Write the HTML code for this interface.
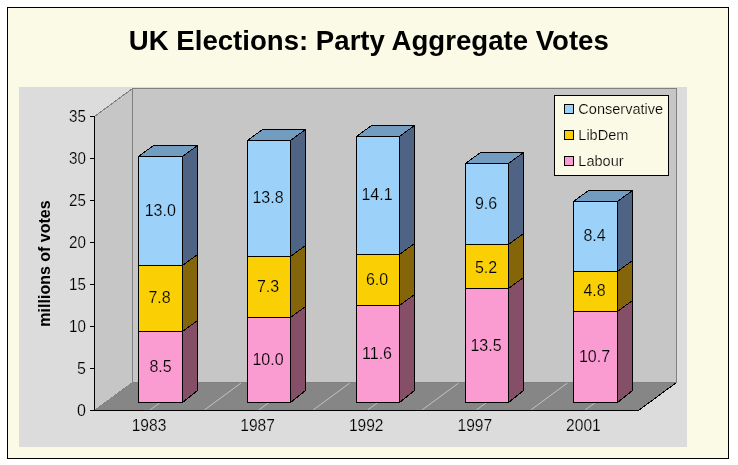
<!DOCTYPE html>
<html><head><meta charset="utf-8"><title>UK Elections: Party Aggregate Votes</title>
<style>html,body{margin:0;padding:0;background:#fff;}body{width:738px;height:465px;overflow:hidden;font-family:"Liberation Sans",sans-serif;}svg{display:block;will-change:transform}text{font-family:"Liberation Sans",sans-serif;fill:#000}.s{shape-rendering:crispEdges}</style></head><body>
<svg width="738" height="465" viewBox="0 0 738 465">
<rect x="0" y="0" width="738" height="465" fill="#fff"/>
<g class="s" stroke-linejoin="bevel">
<rect x="7.5" y="7.5" width="721" height="451" fill="#FAFAE6" stroke="#000" stroke-width="1"/>
<rect x="19" y="87" width="668" height="360" fill="#DCDCDC"/>
<rect x="132.5" y="88.5" width="544.0" height="294.0" fill="#C6C6C6" stroke="#808080"/>
<polygon points="94.5,116.5 132.5,88.5 132.5,382.5 94.5,410.5" fill="#C6C6C6" stroke="#808080"/>
<polygon points="94.5,410.5 132.5,382.5 676.5,382.5 638.5,410.5" fill="#868686"/>
<line x1="150.0" y1="410.0" x2="186.5" y2="383.1" stroke="#C8C8C8" stroke-width="0.9" shape-rendering="auto"/>
<line x1="204.4" y1="410.0" x2="240.9" y2="383.1" stroke="#C8C8C8" stroke-width="0.9" shape-rendering="auto"/>
<line x1="258.8" y1="410.0" x2="295.3" y2="383.1" stroke="#C8C8C8" stroke-width="0.9" shape-rendering="auto"/>
<line x1="313.2" y1="410.0" x2="349.7" y2="383.1" stroke="#C8C8C8" stroke-width="0.9" shape-rendering="auto"/>
<line x1="367.6" y1="410.0" x2="404.1" y2="383.1" stroke="#C8C8C8" stroke-width="0.9" shape-rendering="auto"/>
<line x1="422.0" y1="410.0" x2="458.5" y2="383.1" stroke="#C8C8C8" stroke-width="0.9" shape-rendering="auto"/>
<line x1="476.4" y1="410.0" x2="512.9" y2="383.1" stroke="#C8C8C8" stroke-width="0.9" shape-rendering="auto"/>
<line x1="530.8" y1="410.0" x2="567.3" y2="383.1" stroke="#C8C8C8" stroke-width="0.9" shape-rendering="auto"/>
<line x1="585.2" y1="410.0" x2="621.7" y2="383.1" stroke="#C8C8C8" stroke-width="0.9" shape-rendering="auto"/>
<line x1="638.5" y1="410.5" x2="676.5" y2="382.5" stroke="#000"/>
<line x1="94.5" y1="116" x2="94.5" y2="411.0" stroke="#000"/>
<line x1="90.0" y1="410.5" x2="639.0" y2="410.5" stroke="#000"/>
<line x1="90.0" y1="410.5" x2="94.5" y2="410.5" stroke="#000"/>
<line x1="90.0" y1="368.5" x2="94.5" y2="368.5" stroke="#000"/>
<line x1="90.0" y1="326.5" x2="94.5" y2="326.5" stroke="#000"/>
<line x1="90.0" y1="284.5" x2="94.5" y2="284.5" stroke="#000"/>
<line x1="90.0" y1="242.5" x2="94.5" y2="242.5" stroke="#000"/>
<line x1="90.0" y1="200.5" x2="94.5" y2="200.5" stroke="#000"/>
<line x1="90.0" y1="158.5" x2="94.5" y2="158.5" stroke="#000"/>
<line x1="90.0" y1="116.5" x2="94.5" y2="116.5" stroke="#000"/>
<polygon points="182.5,331.5 197.5,320.5 197.5,390.5 182.5,402.5" fill="#854F68" stroke="#000"/>
<rect x="138.5" y="331.5" width="44.0" height="71.0" fill="#FA9CD1" stroke="#000"/>
<polygon points="182.5,265.5 197.5,254.5 197.5,320.5 182.5,331.5" fill="#85650A" stroke="#000"/>
<rect x="138.5" y="265.5" width="44.0" height="66.0" fill="#FAD005" stroke="#000"/>
<polygon points="182.5,156.5 197.5,145.5 197.5,254.5 182.5,265.5" fill="#4F6485" stroke="#000"/>
<rect x="138.5" y="156.5" width="44.0" height="109.0" fill="#9CD1FA" stroke="#000"/>
<polygon points="138.5,156.5 153.5,145.5 197.5,145.5 182.5,156.5" fill="#729DC0" stroke="#000"/>
<polygon points="290.5,317.5 305.5,306.5 305.5,390.5 290.5,402.5" fill="#854F68" stroke="#000"/>
<rect x="247.5" y="317.5" width="43.0" height="85.0" fill="#FA9CD1" stroke="#000"/>
<polygon points="290.5,256.5 305.5,245.5 305.5,306.5 290.5,317.5" fill="#85650A" stroke="#000"/>
<rect x="247.5" y="256.5" width="43.0" height="61.0" fill="#FAD005" stroke="#000"/>
<polygon points="290.5,140.5 305.5,129.5 305.5,245.5 290.5,256.5" fill="#4F6485" stroke="#000"/>
<rect x="247.5" y="140.5" width="43.0" height="116.0" fill="#9CD1FA" stroke="#000"/>
<polygon points="247.5,140.5 262.5,129.5 305.5,129.5 290.5,140.5" fill="#729DC0" stroke="#000"/>
<polygon points="399.5,305.5 414.5,294.5 414.5,390.5 399.5,402.5" fill="#854F68" stroke="#000"/>
<rect x="356.5" y="305.5" width="43.0" height="97.0" fill="#FA9CD1" stroke="#000"/>
<polygon points="399.5,254.5 414.5,243.5 414.5,294.5 399.5,305.5" fill="#85650A" stroke="#000"/>
<rect x="356.5" y="254.5" width="43.0" height="51.0" fill="#FAD005" stroke="#000"/>
<polygon points="399.5,136.5 414.5,125.5 414.5,243.5 399.5,254.5" fill="#4F6485" stroke="#000"/>
<rect x="356.5" y="136.5" width="43.0" height="118.0" fill="#9CD1FA" stroke="#000"/>
<polygon points="356.5,136.5 371.5,125.5 414.5,125.5 399.5,136.5" fill="#729DC0" stroke="#000"/>
<polygon points="508.5,288.5 523.5,277.5 523.5,390.5 508.5,402.5" fill="#854F68" stroke="#000"/>
<rect x="465.5" y="288.5" width="43.0" height="114.0" fill="#FA9CD1" stroke="#000"/>
<polygon points="508.5,244.5 523.5,233.5 523.5,277.5 508.5,288.5" fill="#85650A" stroke="#000"/>
<rect x="465.5" y="244.5" width="43.0" height="44.0" fill="#FAD005" stroke="#000"/>
<polygon points="508.5,163.5 523.5,152.5 523.5,233.5 508.5,244.5" fill="#4F6485" stroke="#000"/>
<rect x="465.5" y="163.5" width="43.0" height="81.0" fill="#9CD1FA" stroke="#000"/>
<polygon points="465.5,163.5 480.5,152.5 523.5,152.5 508.5,163.5" fill="#729DC0" stroke="#000"/>
<polygon points="617.5,311.5 632.5,300.5 632.5,390.5 617.5,402.5" fill="#854F68" stroke="#000"/>
<rect x="573.5" y="311.5" width="44.0" height="91.0" fill="#FA9CD1" stroke="#000"/>
<polygon points="617.5,271.5 632.5,260.5 632.5,300.5 617.5,311.5" fill="#85650A" stroke="#000"/>
<rect x="573.5" y="271.5" width="44.0" height="40.0" fill="#FAD005" stroke="#000"/>
<polygon points="617.5,201.5 632.5,190.5 632.5,260.5 617.5,271.5" fill="#4F6485" stroke="#000"/>
<rect x="573.5" y="201.5" width="44.0" height="70.0" fill="#9CD1FA" stroke="#000"/>
<polygon points="573.5,201.5 588.5,190.5 632.5,190.5 617.5,201.5" fill="#729DC0" stroke="#000"/>
<rect x="554.5" y="95.5" width="114" height="80" fill="#FAFAE6" stroke="#000"/>
<rect x="564.5" y="104.5" width="9" height="9" fill="#9CD1FA" stroke="#000"/>
<rect x="564.5" y="130.5" width="9" height="9" fill="#FAD005" stroke="#000"/>
<rect x="564.5" y="156.5" width="9" height="9" fill="#FA9CD1" stroke="#000"/>
</g>
<text x="368.8" y="49.6" font-size="27.2" font-weight="bold" text-anchor="middle" textLength="480" lengthAdjust="spacingAndGlyphs">UK Elections: Party Aggregate Votes</text>
<text transform="translate(50,263.5) rotate(-90)" font-size="16" font-weight="bold" text-anchor="middle">millions of votes</text>
<text x="86" y="416.2" font-size="16" text-anchor="end" stroke="#DCDCDC" stroke-width="0.2">0</text>
<text x="86" y="374.2" font-size="16" text-anchor="end" stroke="#DCDCDC" stroke-width="0.2">5</text>
<text x="86" y="332.2" font-size="16" text-anchor="end" stroke="#DCDCDC" stroke-width="0.2" textLength="16.9" lengthAdjust="spacingAndGlyphs">10</text>
<text x="86" y="290.2" font-size="16" text-anchor="end" stroke="#DCDCDC" stroke-width="0.2" textLength="16.9" lengthAdjust="spacingAndGlyphs">15</text>
<text x="86" y="248.2" font-size="16" text-anchor="end" stroke="#DCDCDC" stroke-width="0.2" textLength="16.9" lengthAdjust="spacingAndGlyphs">20</text>
<text x="86" y="206.2" font-size="16" text-anchor="end" stroke="#DCDCDC" stroke-width="0.2" textLength="16.9" lengthAdjust="spacingAndGlyphs">25</text>
<text x="86" y="164.2" font-size="16" text-anchor="end" stroke="#DCDCDC" stroke-width="0.2" textLength="16.9" lengthAdjust="spacingAndGlyphs">30</text>
<text x="86" y="122.2" font-size="16" text-anchor="end" stroke="#DCDCDC" stroke-width="0.2" textLength="16.9" lengthAdjust="spacingAndGlyphs">35</text>
<text x="149.0" y="431" font-size="16" text-anchor="middle" textLength="34.6" lengthAdjust="spacingAndGlyphs" stroke="#DCDCDC" stroke-width="0.2">1983</text>
<text x="257.6" y="431" font-size="16" text-anchor="middle" textLength="34.6" lengthAdjust="spacingAndGlyphs" stroke="#DCDCDC" stroke-width="0.2">1987</text>
<text x="366.2" y="431" font-size="16" text-anchor="middle" textLength="34.6" lengthAdjust="spacingAndGlyphs" stroke="#DCDCDC" stroke-width="0.2">1992</text>
<text x="474.8" y="431" font-size="16" text-anchor="middle" textLength="34.6" lengthAdjust="spacingAndGlyphs" stroke="#DCDCDC" stroke-width="0.2">1997</text>
<text x="583.4" y="431" font-size="16" text-anchor="middle" textLength="34.6" lengthAdjust="spacingAndGlyphs" stroke="#DCDCDC" stroke-width="0.2">2001</text>
<text x="160.5" y="371.9" font-size="16" text-anchor="middle" stroke="#FA9CD1" stroke-width="0.2">8.5</text>
<text x="159.5" y="303.4" font-size="16" text-anchor="middle" stroke="#FAD005" stroke-width="0.2">7.8</text>
<text x="160.3" y="215.9" font-size="16" text-anchor="middle" stroke="#9CD1FA" stroke-width="0.2">13.0</text>
<text x="268.0" y="364.9" font-size="16" text-anchor="middle" stroke="#FA9CD1" stroke-width="0.2">10.0</text>
<text x="268.0" y="291.9" font-size="16" text-anchor="middle" stroke="#FAD005" stroke-width="0.2">7.3</text>
<text x="268.0" y="203.4" font-size="16" text-anchor="middle" stroke="#9CD1FA" stroke-width="0.2">13.8</text>
<text x="377.0" y="358.9" font-size="16" text-anchor="middle" stroke="#FA9CD1" stroke-width="0.2">11.6</text>
<text x="377.0" y="284.9" font-size="16" text-anchor="middle" stroke="#FAD005" stroke-width="0.2">6.0</text>
<text x="377.0" y="200.4" font-size="16" text-anchor="middle" stroke="#9CD1FA" stroke-width="0.2">14.1</text>
<text x="486.0" y="351.4" font-size="16" text-anchor="middle" stroke="#FA9CD1" stroke-width="0.2">13.5</text>
<text x="486.0" y="272.7" font-size="16" text-anchor="middle" stroke="#FAD005" stroke-width="0.2">5.2</text>
<text x="486.0" y="208.9" font-size="16" text-anchor="middle" stroke="#9CD1FA" stroke-width="0.2">9.6</text>
<text x="594.5" y="361.9" font-size="16" text-anchor="middle" stroke="#FA9CD1" stroke-width="0.2">10.7</text>
<text x="594.5" y="296.4" font-size="16" text-anchor="middle" stroke="#FAD005" stroke-width="0.2">4.8</text>
<text x="594.5" y="241.4" font-size="16" text-anchor="middle" stroke="#9CD1FA" stroke-width="0.2">8.4</text>
<text x="578.3" y="113.7" font-size="14.55" stroke="#FAFAE6" stroke-width="0.2">Conservative</text>
<text x="578.3" y="139.7" font-size="14.55" stroke="#FAFAE6" stroke-width="0.2">LibDem</text>
<text x="578.3" y="165.7" font-size="14.55" stroke="#FAFAE6" stroke-width="0.2">Labour</text>
</svg></body></html>
